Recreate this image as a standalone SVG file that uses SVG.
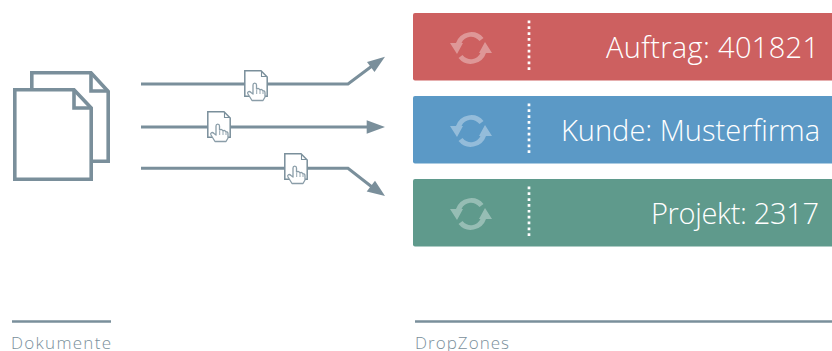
<svg xmlns="http://www.w3.org/2000/svg" width="832" height="351" viewBox="0 0 832 351">
<style>
.ln{fill:none;stroke:#7a8f9b;stroke-width:3}
.doc{fill:#fff;stroke:#7a8f9b;stroke-width:3.6;stroke-linejoin:miter;stroke-miterlimit:2}
.fold{fill:none;stroke:#7a8f9b;stroke-width:3.6;stroke-linejoin:miter}
.bar-t{font-family:"Open Sans","Noto Sans",sans-serif;font-weight:300;font-size:29px;fill:#fff;text-anchor:end}
.cap{font-family:"Open Sans","Noto Sans",sans-serif;font-weight:300;font-size:17px;fill:#7a8f9b}
.dots{fill:none;stroke:#fff;stroke-width:2.7;stroke-dasharray:2.7 3.15}
.sy{fill:#fff;fill-opacity:.35}
.ar{fill:#7a8f9b}
</style>
<defs>
<symbol id="drag" width="26" height="32" viewBox="0 0 26 32" overflow="visible">
<path d="M1.800,0.800 H18 L24.200,7 V26.300 H1.800 Z" fill="#fff" stroke="#7a8f9b" stroke-width="1.500"/>
<path d="M18.500,1.500 V6.500 H23.500" fill="none" stroke="#7a8f9b" stroke-width="1.100"/>
<path d="M9,30.500 L5,24 C4,22 6,20.500 8,22.500 L10,24 V15 C10,12.500 13.500,12.500 13.500,15 V19 C15,18 16.500,18.500 17,20 C18,19 19.500,19.500 20,21 C21,20.500 22,21 22,23 V27 L20,30.500 Z" fill="#fff" stroke="#8a9da8" stroke-width="1.300" stroke-linejoin="round"/>
<path d="M13.700,20 V24 M17,20.500 V24 M20,21.500 V24" fill="none" stroke="#8a9da8" stroke-width=".9"/>
</symbol>
<path id="sync-half" class="sy" d="M-15,-5 A16,16 0 0 1 12.500,-10 L8.500,-7 A10.500,10.500 0 0 0 -9.500,-5 Z M-21,-5 H-8 L-14,6 Z"/>
<g id="sync">
<use href="#sync-half"/>
<use href="#sync-half" transform="rotate(180)"/>
</g>
</defs>

<g id="dokumente">
<path class="doc" d="M31.800,89 V72.800 H91 L108.200,91.500 V161.300 H90"/>
<path class="fold" d="M91,72.800 V91 H108.200"/>
<path class="doc" d="M14.800,89.800 H74 L91.200,108 V179.300 H14.800 Z"/>
<path class="fold" d="M74,89.800 V108 H91.200"/>
</g>

<g id="connectors">
<path class="ln" d="M141,84 H348 L372,66"/>
<path class="ar" d="M385,56.700 L374.500,72 L367,62 Z"/>
<path class="ln" d="M141,127 H370"/>
<path class="ar" d="M385,127 L366.700,120.300 V133.700 Z"/>
<path class="ln" d="M141,168.300 H348 L372,187"/>
<path class="ar" d="M385,196 L366.700,191.500 L375,180.700 Z"/>
</g>

<g id="drag-1"><use href="#drag" x="243" y="70"/></g>
<g id="drag-2"><use href="#drag" x="206" y="111"/></g>
<g id="drag-3"><use href="#drag" x="283" y="153"/></g>

<g id="dropzone-auftrag">
<rect x="413" y="13" width="425" height="67.500" rx="2" fill="#cd6060"/>
<use href="#sync" transform="translate(471,48)"/>
<path class="dots" d="M529,20.500 V73"/>
<text class="bar-t" x="819" y="57.700" textLength="213">Auftrag: 401821</text>
</g>
<g id="dropzone-kunde">
<rect x="413" y="96" width="425" height="67.500" rx="2" fill="#5b99c6"/>
<use href="#sync" transform="translate(471,131)"/>
<path class="dots" d="M529,103.500 V156"/>
<text class="bar-t" x="820" y="140.500" textLength="259">Kunde: Musterfirma</text>
</g>
<g id="dropzone-projekt">
<rect x="413" y="179" width="425" height="67.500" rx="2" fill="#5f9a8c"/>
<use href="#sync" transform="translate(471,214)"/>
<path class="dots" d="M529,186.500 V239"/>
<text class="bar-t" x="819" y="223.500" textLength="168">Projekt: 2317</text>
</g>

<g id="caption-dokumente">
<path d="M12,321.500 H111" stroke="#7a8f9b" stroke-width="2.500"/>
<text class="cap" x="11" y="349" textLength="100">Dokumente</text>
</g>
<g id="caption-dropzones">
<path d="M415,321.500 H832" stroke="#7a8f9b" stroke-width="2.500"/>
<text class="cap" x="415" y="349" textLength="94">DropZones</text>
</g>
</svg>
